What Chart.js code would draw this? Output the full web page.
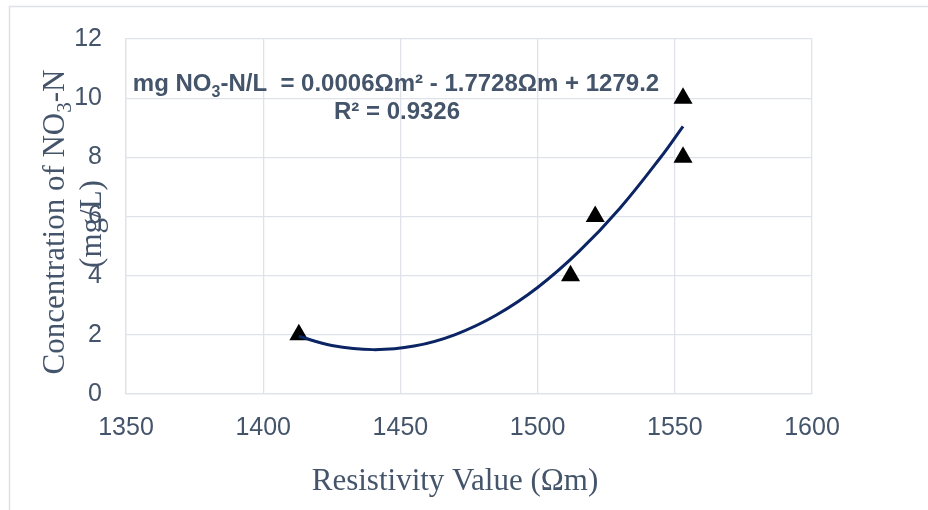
<!DOCTYPE html>
<html>
<head>
<meta charset="utf-8">
<script src="https://cdn.jsdelivr.net/npm/chart.js@4"></script>
<style>
html,body{margin:0;padding:0;background:#fff;}
#wrap{width:928px;height:510px;position:relative;}
</style>
</head>
<body>
<div id="wrap"><canvas id="c" width="928" height="510"></canvas></div>
<script>
// Measured samples
const resistivity = [1413, 1512, 1521, 1553, 1553];
const concentration = [2, 4, 6, 8, 10];
// Trendline (polynomial, order 2)
const trendX = [1413, 1425, 1440, 1455, 1470, 1485, 1500, 1515, 1530, 1545, 1553];
const trendY = [1.95, 1.64, 1.50, 1.62, 2.01, 2.67, 3.60, 4.81, 6.28, 8.02, 9.05];
// Axis ticks
const xTicks = [1350, 1400, 1450, 1500, 1550, 1600];
const yTicks = [0, 2, 4, 6, 8, 10, 12];

const equationText = ['mg NO', '3', '-N/L  = 0.0006Ωm² - 1.7728Ωm + 1279.2'];
const r2Text = 'R² = 0.9326';
const yTitle1 = ['Concentration of NO', '3', '-N'];
const yTitle2 = '(mg/L)';
const xTitle = 'Resistivity Value (Ωm)';

const TEXT = '#44546A';
const GRID = '#dfe3e9';
const SANS = '"Liberation Sans", Arial, sans-serif';
const SERIF = '"Liberation Serif", "Times New Roman", serif';

const points = resistivity.map((x, i) => ({x, y: concentration[i]}));
const trend = trendX.map((x, i) => ({x, y: trendY[i]}));

function drawSegments(ctx, segs, x, y, big, small, sub, bold, family) {
  const fb = (bold ? 'bold ' : '') + big + 'px ' + family;
  const fs = (bold ? 'bold ' : '') + small + 'px ' + family;
  ctx.font = fb; const w0 = ctx.measureText(segs[0]).width;
  ctx.font = fs; const w1 = ctx.measureText(segs[1]).width;
  ctx.font = fb; const w2 = ctx.measureText(segs[2]).width;
  const total = w0 + w1 + w2;
  let cx = x - total / 2;
  ctx.textAlign = 'left';
  ctx.textBaseline = 'alphabetic';
  ctx.font = fb; ctx.fillText(segs[0], cx, y); cx += w0;
  ctx.font = fs; ctx.fillText(segs[1], cx, y + sub); cx += w1;
  ctx.font = fb; ctx.fillText(segs[2], cx, y);
}

const decorations = {
  id: 'decorations',
  beforeDraw(chart) {
    const ctx = chart.ctx;
    ctx.save();
    ctx.strokeStyle = '#dde2e8';
    ctx.lineWidth = 1.5;
    ctx.strokeRect(9.5, 6.5, 1000, 1000);
    ctx.restore();
  },
  afterDraw(chart) {
    const ctx = chart.ctx;
    ctx.save();
    ctx.fillStyle = TEXT;
    // equation
    drawSegments(ctx, equationText, 396, 91, 24, 16, 6, true, SANS);
    ctx.font = 'bold 24px ' + SANS;
    ctx.textAlign = 'center';
    ctx.fillText(r2Text, 397, 119);
    // x title
    ctx.font = '31px ' + SERIF;
    ctx.textAlign = 'center';
    ctx.textBaseline = 'alphabetic';
    ctx.fillText(xTitle, 455, 490);
    // y title
    ctx.save();
    ctx.translate(64, 222);
    ctx.rotate(-Math.PI / 2);
    drawSegments(ctx, yTitle1, 0, 0, 31, 21, 7, false, SERIF);
    ctx.restore();
    ctx.save();
    ctx.translate(101, 224);
    ctx.rotate(-Math.PI / 2);
    ctx.font = '31px ' + SERIF;
    ctx.textAlign = 'center';
    ctx.fillText(yTitle2, 0, 0);
    ctx.restore();
    ctx.restore();
  }
};

new Chart(document.getElementById('c'), {
  type: 'scatter',
  data: {
    datasets: [
      {
        label: 'Trendline',
        data: trend,
        showLine: true,
        borderColor: '#0b2463',
        borderWidth: 3,
        pointRadius: 0,
        tension: 0.4,
        fill: false
      },
      {
        label: 'Samples',
        data: points,
        pointStyle: 'triangle',
        pointRadius: 11,
        pointHoverRadius: 11,
        backgroundColor: '#000',
        borderWidth: 0,
        showLine: false
      }
    ]
  },
  options: {
    responsive: false,
    animation: false,
    devicePixelRatio: 1,
    layout: { padding: { left: 0, top: 33, right: 116, bottom: 0 } },
    plugins: { legend: { display: false }, tooltip: { enabled: false } },
    scales: {
      x: {
        type: 'linear',
        min: 1350, max: 1600,
        afterBuildTicks(s) { s.ticks = xTicks.map(v => ({value: v})); },
        afterFit(s) { s.height = 116; },
        grid: { color: GRID, lineWidth: 1.3, drawTicks: false },
        border: { color: GRID, width: 1.3 },
        ticks: { color: TEXT, padding: 19, font: { family: SANS, size: 25 }, callback: v => String(v) }
      },
      y: {
        type: 'linear',
        min: 0, max: 12,
        afterBuildTicks(s) { s.ticks = yTicks.map(v => ({value: v})); },
        afterFit(s) { s.width = 126; },
        grid: { color: GRID, lineWidth: 1.3, drawTicks: false },
        border: { color: GRID, width: 1.3 },
        ticks: { color: TEXT, padding: 24, font: { family: SANS, size: 25 }, callback: v => String(v) }
      }
    }
  },
  plugins: [decorations]
});
</script>
</body>
</html>
